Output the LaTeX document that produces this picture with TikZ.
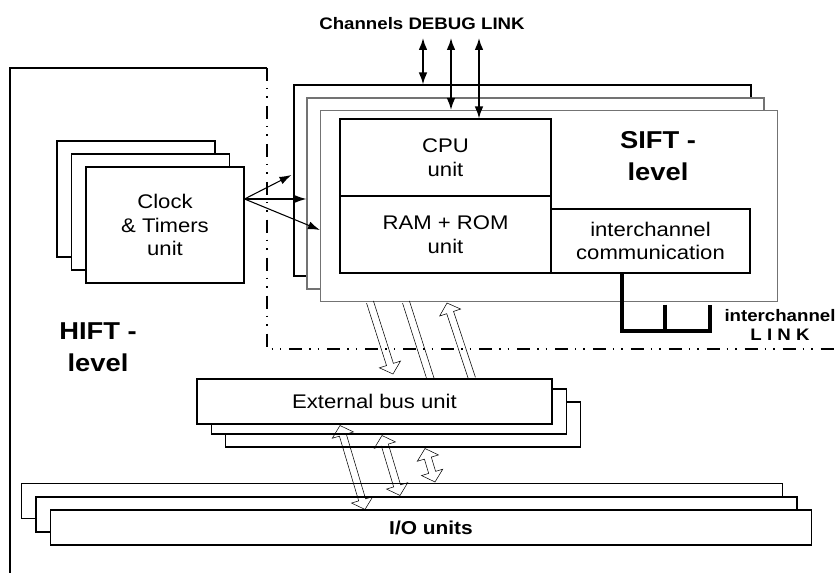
\documentclass[tikz,border=0pt]{standalone}
\usepackage{fontspec}
\setmainfont{Liberation Sans}[FakeStretch=1.12]
\usetikzlibrary{arrows.meta,calc,positioning}

\begin{document}
\begin{tikzpicture}[
  x=0.75pt,y=-0.75pt,>=Latex,
  every node/.style={inner sep=0pt},
  unitbox/.style={draw=black,fill=white,line width=0.8pt,align=center,
    font=\fontsize{14.8}{17.75}\selectfont},
  sheet/.style={unitbox,draw=black!55},
  levellabel/.style={font=\bfseries\fontsize{18.3}{24}\selectfont,align=center},
  smalllabel/.style={font=\bfseries\fontsize{12.5}{14.25}\selectfont,align=center},
  signal/.style={-{Latex[length=9pt,width=6pt]},line width=0.8pt},
  debug/.style={{Latex[length=9pt,width=6.5pt]}-{Latex[length=9pt,width=6.5pt]},
    line width=1.2pt},
  link/.style={line width=3pt},
  boundary/.style={line width=0.8pt,
    dash pattern=on 9.75pt off 5.25pt on 1.1pt off 5.25pt on 1.1pt off 6pt},
  hollow/.style={draw=black,line width=0.6pt,line join=miter,to path={
    ($(\tikztostart)!2.7pt!90:(\tikztotarget)$)
    -- ($($(\tikztotarget)!7.5pt!(\tikztostart)$)!2.7pt!90:(\tikztotarget)$)
    -- ($($(\tikztotarget)!7.5pt!(\tikztostart)$)!8.3pt!90:(\tikztotarget)$)
    -- (\tikztotarget)
    -- ($($(\tikztotarget)!7.5pt!(\tikztostart)$)!8.3pt!-90:(\tikztotarget)$)
    -- ($($(\tikztotarget)!7.5pt!(\tikztostart)$)!2.7pt!-90:(\tikztotarget)$)
    -- ($(\tikztostart)!2.7pt!-90:(\tikztotarget)$)}},
  hollowboth/.style={draw=black,line width=0.6pt,line join=miter,to path={
    (\tikztostart)
    -- ($($(\tikztostart)!7.5pt!(\tikztotarget)$)!8.3pt!90:(\tikztotarget)$)
    -- ($($(\tikztostart)!7.5pt!(\tikztotarget)$)!2.7pt!90:(\tikztotarget)$)
    -- ($($(\tikztotarget)!7.5pt!(\tikztostart)$)!2.7pt!90:(\tikztotarget)$)
    -- ($($(\tikztotarget)!7.5pt!(\tikztostart)$)!8.3pt!90:(\tikztotarget)$)
    -- (\tikztotarget)
    -- ($($(\tikztotarget)!7.5pt!(\tikztostart)$)!8.3pt!-90:(\tikztotarget)$)
    -- ($($(\tikztotarget)!7.5pt!(\tikztostart)$)!2.7pt!-90:(\tikztotarget)$)
    -- ($($(\tikztostart)!7.5pt!(\tikztotarget)$)!2.7pt!-90:(\tikztotarget)$)
    -- ($($(\tikztostart)!7.5pt!(\tikztotarget)$)!8.3pt!-90:(\tikztotarget)$)
    -- cycle}}
]
\useasboundingbox (0,0) rectangle (840,573);

% HIFT frame, open towards the SIFT channel corner
\draw[line width=0.8pt] (10,573) -- (10,68) -- (267,68);
\draw[boundary] (267,68) -- (267,349) -- (840,349);

% Clock & timers stack
\node[unitbox,minimum width=118.5pt,minimum height=87pt] (clockback) at (136,199) {};
\node[unitbox,minimum width=118.5pt,minimum height=87pt] (clockmid) at (150.5,212) {};
\node[unitbox,minimum width=118.5pt,minimum height=87pt] (clock) at (165,225)
  {Clock\\ \& Timers\\ unit};

% SIFT channel stack
\node[unitbox,minimum width=342.75pt,minimum height=143.25pt] (siftback) at (522.5,180.5) {};
\node[sheet,minimum width=342.75pt,minimum height=143.25pt] (siftmid) at (535.5,193.5) {};
\node[sheet,minimum width=342.75pt,minimum height=143.25pt] (sift) at (549,206) {};
\node[unitbox,minimum width=158.25pt,minimum height=57.75pt] (cpu) at (445.5,157.5)
  {CPU\\ unit};
\node[unitbox,minimum width=158.25pt,minimum height=57.75pt] (mem) at (445.5,234.5)
  {RAM + ROM\\ unit};
\node[unitbox,minimum width=149.25pt,minimum height=48pt] (comm) at (650.5,241)
  {interchannel\\ communication};
\node[levellabel] (siftlabel) at (658,156.5) {SIFT -\\ level};

% Debug link into the channels
\node[smalllabel] (debuglabel) at (422,23.5) {Channels DEBUG LINK};
\coordinate (dbg1) at (423,38);
\coordinate (dbg2) at (451,38);
\coordinate (dbg3) at (479,38);
\draw[debug] (dbg1) -- (dbg1 |- siftback.north);
\draw[debug] (dbg2) -- (dbg2 |- sift.north);
\draw[debug] (dbg3) -- (dbg3 |- cpu.north);

% Clock signals to every channel
\coordinate (clockout) at ($(clock.east)+(0,-26)$);
\draw[signal] (clockout) -- ($(siftback.west)+(-2,-5.5)$);
\draw[signal] (clockout) -- ($(siftmid.west)+(0,5.5)$);
\draw[signal] (clockout) -- ($(sift.west)+(0,24)$);

% Interchannel link
\draw[link] ($(comm.south)+(-28.5,0)$) -- ++(0,57) -- ++(88,0) -- ++(0,-26);
\draw[link] ($(comm.south)+(14.5,31)$) -- ++(0,26);
\node[smalllabel] (linklabel) at (780,325) {interchannel\\ L I N K};

% Channels to external bus
\coordinate (sd1) at ($(sift.south)+(-179,0)$);
\coordinate (sd2) at ($(sift.south)+(-143,0)$);
\coordinate (su3) at ($(sift.south)+(-102,1)$);
\coordinate (bd1) at (393,374);
\coordinate (bd2) at (435,393);
\draw (sd1) to[hollow] (bd1);
\draw (sd2) to[hollow] (bd2);

% External bus stack
\node[unitbox,minimum width=266.25pt,minimum height=33.75pt] (busback) at (403,424.5) {};
\node[unitbox,minimum width=266.25pt,minimum height=33.75pt] (busmid) at (389,411.5) {};
\node[unitbox,minimum width=266.25pt,minimum height=33.75pt] (bus) at (374.5,401.5)
  {External bus unit};
\draw ($(bus.north)+(97.5,0)$) to[hollow] (su3);

% I/O stack
\node[unitbox,minimum width=570.75pt,minimum height=26.25pt] (ioback) at (402,501) {};
\node[unitbox,minimum width=570.75pt,minimum height=26.25pt] (iomid) at (416.5,514.5) {};
\node[unitbox,minimum width=570.75pt,minimum height=26.25pt,font=\bfseries\fontsize{14}{16}\selectfont]
  (io) at (431,527.5) {I/O units};

% External bus to I/O
\draw ($(bus.south)+(-34.5,1)$) to[hollowboth] ($(io.north)+(-66,0)$);
\draw ($(busmid.south)+(-7,1)$) to[hollowboth] ($(iomid.north)+(-16.5,-1)$);
\draw ($(busback.south)+(22,1)$) to[hollowboth] ($(ioback.north)+(33,-1)$);

\node[levellabel] (hiftlabel) at (98,347.5) {HIFT -\\ level};

\end{tikzpicture}
\end{document}
